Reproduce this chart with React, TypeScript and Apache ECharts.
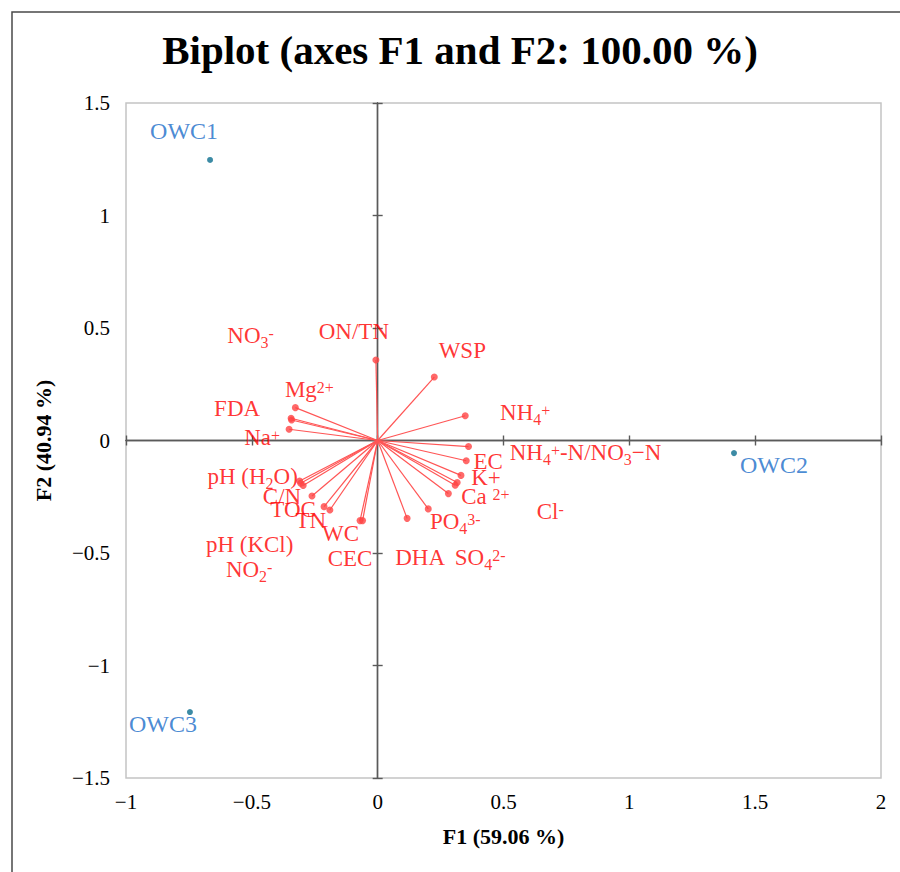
import React, { useEffect, useRef } from "react";
import * as echarts from "echarts";

// Variable loadings (F1, F2)
const variables = [
  "ON/TN", "WSP", "Mg2+", "FDA", "NO3-", "Na+", "NH4+", "NH4+-N/NO3-N", "EC", "K+",
  "Cl-", "SO4 2-", "Ca 2+", "PO4 3-", "DHA", "CEC", "WC", "TN", "TOC", "C/N",
  "pH (H2O)", "pH (KCl)", "NO2-",
];
const varF1 = [
  -0.007, 0.225, -0.327, -0.344, -0.342, -0.352, 0.348, 0.361, 0.352, 0.331,
  0.316, 0.308, 0.281, 0.201, 0.117, -0.07, -0.06, -0.19, -0.213, -0.261,
  -0.31, -0.306, -0.296,
];
const varF2 = [
  0.358, 0.282, 0.146, 0.099, 0.091, 0.05, 0.11, -0.027, -0.09, -0.155,
  -0.187, -0.199, -0.236, -0.304, -0.346, -0.356, -0.356, -0.309, -0.294, -0.247,
  -0.18, -0.19, -0.2,
];
// Rich-text renderings of the variable names
const varLabels = [
  "ON/TN", "WSP", "Mg{sup|2+}", "FDA", "NO{sub|3}{sup|-}", "Na{sup|+}", "NH{sub|4}{sup|+}",
  "NH{sub|4}{sup|+}-N/NO{sub|3}−N", "EC", "K+", "Cl{sup|-}", "SO{sub|4}{sup|2-}", "Ca {sup|2+}",
  "PO{sub|4}{sup|3-}", "DHA", "CEC", "WC", "TN", "TOC", "C/N", "pH (H{sub|2}O)", "pH (KCl)",
  "NO{sub|2}{sup|-}",
];
// Label offsets in pixels from each point
const varLabelOffsets = [
  [-22, -28], [28, -27], [14, -18], [-54, -10], [-41, -85], [-27, 8], [60, -3],
  [117, 6], [22, 1], [25, 2], [93, 29], [25, 72], [37, 3], [27, 13], [13, 39],
  [-10, 38], [-22, 13], [-19, 10], [-31, 3], [-30, 0], [-47, -5], [-51, 61], [-54, 84],
];

// Observations
const observations = ["OWC1", "OWC2", "OWC3"];
const obsF1 = [-0.666, 1.416, -0.746];
const obsF2 = [1.247, -0.056, -1.207];
const obsLabelOffsets = [[-26, -29], [40, 12], [-27, 12]];

const xRange = [-1, 2];
const yRange = [-1.5, 1.5];
const tickStep = 0.5;

const FONT = "Liberation Serif";

const fmt = (v: number) => (v < 0 ? "−" + Math.abs(v) : String(v));

export default function App() {
  const ref = useRef<HTMLDivElement>(null);
  useEffect(() => {
    if (!ref.current) return;
    const chart = echarts.init(ref.current, undefined, { renderer: "svg" });
    const zeroAxisLine = { color: "#5a5a5a", width: 1.4 };
    const baseX = { type: "value", min: xRange[0], max: xRange[1], interval: tickStep, splitLine: { show: false } };
    const baseY = { type: "value", min: yRange[0], max: yRange[1], interval: tickStep, splitLine: { show: false } };
    const rich = {
      sub: { fontSize: 16, verticalAlign: "bottom", color: "#ff0000", fontFamily: FONT },
      sup: { fontSize: 16, verticalAlign: "top", padding: [5, 0, 0, 0], color: "#ff0000", fontFamily: FONT },
    };
    chart.setOption({
      animation: false,
      backgroundColor: "#ffffff",
      grid: {
        left: 126, top: 103, right: 19, bottom: 94,
        show: true, borderColor: "#c4c4c4", borderWidth: 1.5, backgroundColor: "transparent",
      },
      graphic: [
        {
          type: "rect", shape: { x: 12, y: 12, width: 920, height: 900 },
          style: { fill: "none", stroke: "#4a4a4a", lineWidth: 1.5 }, silent: true,
        },
        {
          type: "text", x: 460, y: 50,
          style: {
            text: "Biplot (axes F1 and F2: 100.00 %)", fontFamily: FONT, fontWeight: "bold",
            fontSize: 41, fill: "#000", align: "center", verticalAlign: "middle",
          },
        },
      ],
      xAxis: [
        {
          ...baseX,
          axisLine: { show: false, onZero: false },
          axisTick: { show: false },
          axisLabel: { formatter: fmt, fontSize: 21, color: "#000", fontFamily: FONT, margin: 13 },
          name: "F1 (59.06 %)", nameLocation: "middle", nameGap: 47,
          nameTextStyle: { fontSize: 22, fontWeight: "bold", color: "#000", fontFamily: FONT },
        },
        {
          ...baseX,
          axisLine: { show: true, onZero: true, onZeroAxisIndex: 0, lineStyle: zeroAxisLine },
          axisTick: { show: true, inside: true, length: 5, lineStyle: zeroAxisLine },
          axisLabel: { show: false },
        },
        {
          ...baseX,
          axisLine: { show: true, onZero: true, onZeroAxisIndex: 0, lineStyle: zeroAxisLine },
          axisTick: { show: true, inside: false, length: 5, lineStyle: zeroAxisLine },
          axisLabel: { show: false },
        },
      ],
      yAxis: [
        {
          ...baseY,
          axisLine: { show: false, onZero: false },
          axisTick: { show: false },
          axisLabel: { formatter: fmt, fontSize: 21, color: "#000", fontFamily: FONT, margin: 16 },
          name: "F2 (40.94 %)", nameLocation: "middle", nameGap: 72,
          nameTextStyle: { fontSize: 22, fontWeight: "bold", color: "#000", fontFamily: FONT },
        },
        {
          ...baseY,
          axisLine: { show: true, onZero: true, onZeroAxisIndex: 0, lineStyle: zeroAxisLine },
          axisTick: { show: true, inside: true, length: 5, lineStyle: zeroAxisLine },
          axisLabel: { show: false },
        },
        {
          ...baseY,
          axisLine: { show: true, onZero: true, onZeroAxisIndex: 0, lineStyle: zeroAxisLine },
          axisTick: { show: true, inside: false, length: 5, lineStyle: zeroAxisLine },
          axisLabel: { show: false },
        },
      ],
      series: [
        {
          type: "lines",
          coordinateSystem: "cartesian2d",
          xAxisIndex: 0, yAxisIndex: 0,
          symbol: "none",
          lineStyle: { color: "#ff5555", width: 1.2, opacity: 1 },
          data: varF1.map((x, i) => ({ name: variables[i], coords: [[0, 0], [x, varF2[i]]] })),
          z: 3,
        },
        {
          type: "scatter",
          xAxisIndex: 0, yAxisIndex: 0,
          symbol: "circle", symbolSize: 7,
          itemStyle: { color: "#ff4444" },
          data: varF1.map((x, i) => ({
            name: variables[i],
            value: [x, varF2[i]],
            label: { offset: varLabelOffsets[i] },
          })),
          label: {
            show: true, position: "inside",
            formatter: (p: any) => varLabels[p.dataIndex],
            color: "#ff0000", fontSize: 23, lineHeight: 30, fontFamily: FONT,
            align: "center", verticalAlign: "middle",
            rich,
          },
          z: 4,
        },
        {
          type: "scatter",
          xAxisIndex: 0, yAxisIndex: 0,
          symbol: "circle", symbolSize: 6,
          itemStyle: { color: "#0b6e8e" },
          data: obsF1.map((x, i) => ({
            name: observations[i],
            value: [x, obsF2[i]],
            label: { offset: obsLabelOffsets[i] },
          })),
          label: {
            show: true, position: "inside",
            formatter: (p: any) => observations[p.dataIndex],
            color: "#1a6cc8", fontSize: 24, fontFamily: FONT,
            align: "center", verticalAlign: "middle",
          },
          z: 4,
        },
      ],
    });
    return () => chart.dispose();
  }, []);
  return (
    <div
      ref={ref}
      style={{ position: "absolute", left: 0, top: 0, width: 900, height: 872, background: "#fff" }}
    />
  );
}
